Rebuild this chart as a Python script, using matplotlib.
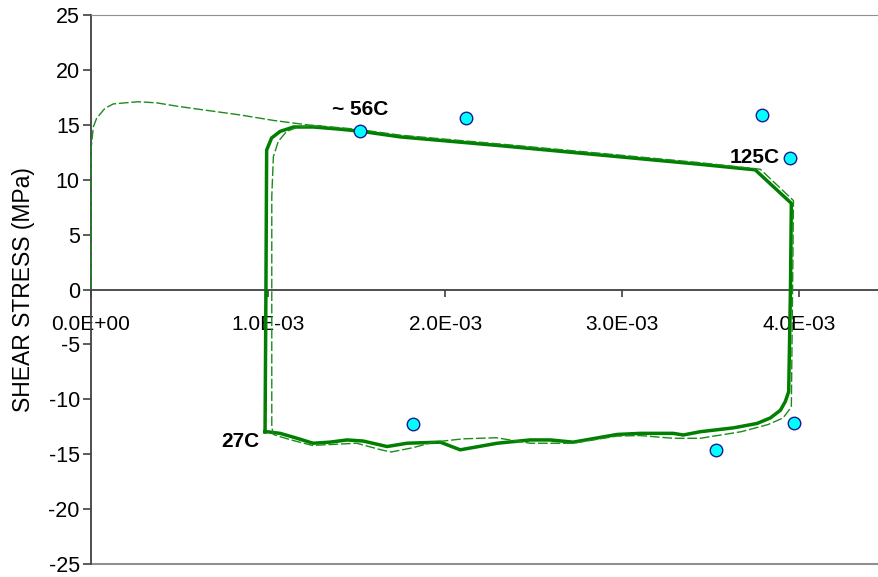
import matplotlib
matplotlib.use("Agg")
import matplotlib.pyplot as plt
import numpy as np

plt.rcParams['font.family'] = ['Liberation Sans', 'DejaVu Sans']
plt.rcParams['axes.unicode_minus'] = False

# strain in units of 1E-3, shear stress in MPa
loop_strain = [0.983, 0.988, 0.992, 1.02, 1.068, 1.144, 1.256, 1.407, 1.529, 1.746,
               2.311, 2.876, 3.441, 3.751, 3.955, 3.95, 3.94, 3.921, 3.893, 3.836,
               3.761, 3.628, 3.441, 3.345, 3.288, 3.102, 2.972, 2.723, 2.593, 2.480,
               2.294, 2.085, 1.972, 1.785, 1.672, 1.537, 1.446, 1.350, 1.254, 1.164,
               1.068, 0.992, 0.983]
loop_stress = [-12.95, 0.0, 12.7, 13.8, 14.4, 14.8, 14.8, 14.6, 14.4, 13.9,
               13.1, 12.25, 11.4, 10.9, 7.85, 0.0, -9.3, -10.2, -11.0, -11.7,
               -12.2, -12.6, -12.95, -13.25, -13.1, -13.1, -13.2, -13.9, -13.7, -13.7,
               -14.0, -14.6, -13.9, -14.0, -14.3, -13.8, -13.7, -13.9, -14.0, -13.55,
               -13.1, -12.95, -12.95]

first_strain = [0.0, 0.0, 0.013, 0.032, 0.079, 0.126, 0.192, 0.267, 0.371, 0.484,
                0.616, 0.842, 1.03, 1.219, 1.5, 1.75, 2.31, 2.88, 3.44, 3.78,
                3.967, 3.962, 3.955, 3.908, 3.823, 3.672, 3.441, 3.288, 3.1, 2.97,
                2.72, 2.48, 2.29, 2.10, 1.933, 1.82, 1.695, 1.638, 1.5, 1.25,
                1.13, 1.068, 1.03, 1.021, 1.021, 1.03, 1.058, 1.105, 1.17, 1.3]
first_stress = [0.0, 12.7, 14.8, 15.6, 16.5, 16.9, 17.0, 17.1, 17.0, 16.7,
                16.4, 15.9, 15.4, 15.0, 14.6, 14.05, 13.25, 12.4, 11.55, 10.95,
                8.1, 0.0, -10.7, -11.7, -12.3, -12.95, -13.55, -13.55, -13.3, -13.35,
                -14.0, -14.0, -13.5, -13.6, -13.9, -14.4, -14.8, -14.6, -14.0, -14.2,
                -13.7, -13.4, -13.2, -12.5, 8.45, 12.1, 13.5, 14.4, 14.8, 14.9]

point_strain = [1.52, 2.12, 3.79, 3.95, 1.82, 3.53, 3.97]
point_stress = [14.4, 15.6, 15.9, 12.0, -12.25, -14.6, -12.2]

temp_labels = ['~ 56C', '125C', '27C']
temp_strain = [1.52, 3.746, 0.842]
temp_stress = [16.35, 11.98, -13.8]

fig = plt.figure(figsize=(8.79, 5.77), dpi=100)
ax = fig.add_axes([0.1035, 0.0225, 0.8965, 0.9515])

green = '#007f00'
ax.plot(np.array(loop_strain) * 1e-3, loop_stress, color=green, lw=2.5,
        solid_joinstyle='round', zorder=3)
ax.plot(np.array(first_strain) * 1e-3, first_stress, color='#1a8c1a', lw=1.0,
        dashes=(7, 2), zorder=4, clip_on=False)
ax.plot(np.array(point_strain) * 1e-3, point_stress, 'o', ms=9,
        mfc='#00ffff', mec='#1a1a8c', mew=1.0, zorder=5)

for lab, xs, ys in zip(temp_labels, temp_strain, temp_stress):
    ax.text(xs * 1e-3, ys, lab, fontsize=15, fontweight='bold',
            ha='center', va='center', zorder=6)

ax.set_xlim(0, 4.45e-3)
ax.set_ylim(-25, 25)
ax.set_yticks(np.arange(-25, 26, 5))
ax.set_xticks([0, 1e-3, 2e-3, 3e-3, 4e-3])
ax.set_xticklabels(['0.0E+00', '1.0E-03', '2.0E-03', '3.0E-03', '4.0E-03'])

ax.spines['bottom'].set_position(('data', 0))
ax.spines['right'].set_visible(False)
ax.spines['top'].set_color('#909090')
ax.spines['left'].set_color('#404040')
ax.spines['bottom'].set_color('#404040')
ax.spines['left'].set_linewidth(1.3)
ax.spines['bottom'].set_linewidth(1.3)
ax.spines['left'].set_zorder(2)
ax.axhline(-25, color='#909090', lw=1.5, clip_on=False)

ax.tick_params(axis='y', direction='out', length=6, width=1.2, color='#404040',
               labelsize=15.5, pad=2)
ax.tick_params(axis='x', direction='out', length=5, width=1.2, color='#404040',
               labelsize=15, pad=13)

ax.set_ylabel('SHEAR STRESS (MPa)', fontsize=16.5, labelpad=10)

fig.savefig('out.png', dpi=100)
